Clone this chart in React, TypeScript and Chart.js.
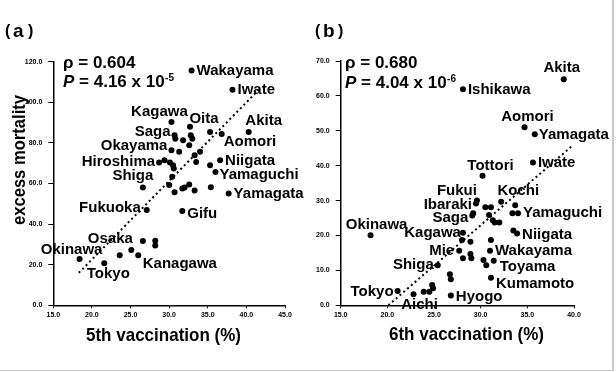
import React, { useEffect, useRef } from 'react';
import { Chart, registerables } from 'chart.js';

Chart.register(...registerables);

const FONT = '"Liberation Sans", Arial, Helvetica, sans-serif';

// ---------- Panel (a): 5th vaccination vs excess mortality ----------
const vacc5 = [32.9, 38.2, 30.3, 32.7, 35.3, 36.8, 40.3, 30.7, 30.8, 31.8, 32.8, 33.0, 32.6, 30.3, 31.3, 33.3, 34.0, 33.5, 36.6, 35.3, 36.0, 28.7, 29.4, 30.1, 30.5, 30.6, 30.4, 26.6, 30.0, 30.7, 31.7, 32.0, 32.6, 33.3, 35.4, 37.7, 31.7, 27.1, 26.6, 28.2, 28.2, 23.6, 25.1, 26.0, 21.6, 18.4];
const mort5 = [115.7, 106.2, 90.3, 87.9, 85.4, 84.4, 85.4, 83.8, 82.1, 81.3, 83.8, 82.1, 78.8, 76.4, 75.6, 73.9, 75.6, 70.6, 71.5, 69.0, 65.7, 70.3, 71.5, 70.3, 69.0, 67.4, 63.3, 58.0, 59.2, 55.7, 57.5, 58.0, 59.5, 56.6, 58.2, 55.1, 46.5, 46.9, 31.7, 31.8, 29.5, 24.7, 27.2, 24.7, 20.7, 22.8];
const names5 = ['Wakayama', 'Iwate', 'Kagawa', 'Oita', '', 'Aomori', 'Akita', 'Saga', '', '', '', '', '', 'Okayama', '', '', '', '', 'Niigata', '', 'Yamaguchi', 'Hiroshima', '', '', '', '', 'Shiga', '', '', '', '', '', '', '', '', 'Yamagata', 'Gifu', 'Fukuoka', 'Osaka', '', '', '', '', 'Kanagawa', 'Tokyo', 'Okinawa'];
const trendX5 = [18.3, 41.7];
const trendY5 = [16.0, 106.5];
const rho5 = '0.604';
const pMant5 = '4.16';
const pExp5 = '-5';

// ---------- Panel (b): 6th vaccination vs excess mortality ----------
const vacc6 = [38.9, 28.1, 34.7, 35.8, 35.6, 30.2, 29.6, 29.5, 30.5, 31.1, 32.2, 33.7, 33.4, 34.0, 29.2, 29.1, 30.9, 31.3, 31.5, 32.0, 33.5, 33.9, 18.2, 28.1, 28.0, 28.9, 31.1, 27.7, 28.9, 28.1, 29.0, 31.0, 30.3, 30.6, 31.4, 25.4, 26.7, 26.8, 31.1, 24.8, 24.9, 26.8, 21.1, 22.8, 23.9, 24.5];
const mort6 = [64.8, 61.9, 51.0, 49.0, 40.9, 37.1, 30.0, 29.2, 28.1, 28.1, 29.7, 28.7, 26.4, 26.4, 26.4, 25.7, 25.9, 24.4, 23.7, 23.7, 21.4, 20.6, 20.1, 20.8, 18.7, 18.2, 18.7, 15.6, 14.7, 13.5, 13.5, 15.6, 13.0, 11.5, 12.8, 11.5, 8.9, 7.5, 7.9, 5.8, 4.9, 2.8, 4.1, 3.2, 3.9, 3.9];
const names6 = ['Akita', 'Ishikawa', 'Aomori', 'Yamagata', 'Iwate', 'Tottori', 'Fukui', 'Ibaraki', '', '', 'Kochi', '', '', 'Yamaguchi', '', 'Saga', '', '', '', '', '', 'Niigata', 'Okinawa', 'Kagawa', '', '', '', 'Mie', '', '', '', 'Wakayama', '', '', 'Toyama', 'Shiga', '', '', 'Kumamoto', '', '', 'Hyogo', 'Tokyo', 'Aichi', '', ''];
const trendX6 = [20.1, 39.9];
const trendY6 = [0.0, 45.9];
const rho6 = '0.680';
const pMant6 = '4.04';
const pExp6 = '-6';

// label placement (text anchor relative to its point, in px)
type Place = [CanvasTextAlign, number, number];
const place5: Record<string, Place> = {
  Wakayama: ['left', 5, 0], Iwate: ['left', 5, 0], Kagawa: ['center', -12, -10], Oita: ['center', 14, -8],
  Aomori: ['left', 2, 8], Akita: ['center', 15, -11], Saga: ['right', -4, -3.5], Okayama: ['right', -4, -4],
  Niigata: ['left', 5, 1], Yamaguchi: ['left', 4, 3], Hiroshima: ['right', -4, -1], Shiga: ['right', -19, -1],
  Yamagata: ['left', 5, 0], Gifu: ['left', 5, 3], Fukuoka: ['right', -6, -2], Osaka: ['right', -10, -2.5],
  Kanagawa: ['left', 4.5, 8.5], Tokyo: ['center', 4, 11], Okinawa: ['center', -8, -9],
};
const place6: Record<string, Place> = {
  Akita: ['center', -2, -11], Ishikawa: ['left', 5, 1], Aomori: ['center', 3, -10], Yamagata: ['left', 4, 1],
  Iwate: ['left', 5, 0], Tottori: ['center', 8, -10], Fukui: ['right', 0, -10], Ibaraki: ['right', -4, 1],
  Kochi: ['center', 17, -11], Yamaguchi: ['left', 5, 0], Saga: ['right', -4, 2], Niigata: ['left', 5, 1],
  Okinawa: ['center', 6, -10.5], Kagawa: ['right', -2, 0], Mie: ['right', -5, 0], Wakayama: ['left', 5, 0],
  Shiga: ['right', -4, 0], Toyama: ['left', 6, 6], Kumamoto: ['left', 5, 6], Tokyo: ['right', -4, 1],
  Aichi: ['center', 6, 11], Hyogo: ['left', 5, 1],
};

interface Panel {
  xs: number[]; ys: number[]; names: string[]; place: Record<string, Place>;
  tx: number[]; ty: number[];
  xMin: number; xMax: number; xStep: number; yMin: number; yMax: number; yStep: number;
  padLeft: number; padRight: number; padTop: number; yAxisW: number; xAxisH: number;
  letter: string; letterX: number; rho: string; pMant: string; pExp: string; textX: number; pBase: number;
  xTitle: string; xTitleX: number; xTitleY: number; xTitleW: number;
  yTitle?: string;
}

function fitText(ctx: CanvasRenderingContext2D, text: string, x: number, y: number, w: number) {
  const m = ctx.measureText(text).width;
  ctx.save();
  ctx.translate(x, y);
  ctx.scale(w / m, 1);
  ctx.textAlign = 'center';
  ctx.fillText(text, 0, 0);
  ctx.restore();
}

function makeChart(canvas: HTMLCanvasElement, p: Panel) {
  const textPlugin = {
    id: 'texts',
    beforeDraw(chart: any) {
      if (!p.yTitle) return;
      const ctx: CanvasRenderingContext2D = chart.ctx;
      ctx.save();
      ctx.fillStyle = '#000';
      ctx.translate(20, 160);
      ctx.rotate(-Math.PI / 2);
      ctx.font = `bold 18px ${FONT}`;
      ctx.textBaseline = 'middle';
      fitText(ctx, p.yTitle, 0, 0, 130);
      ctx.restore();
    },
    afterDatasetsDraw(chart: any) {
      const ctx: CanvasRenderingContext2D = chart.ctx;
      ctx.save();
      ctx.fillStyle = '#000';
      // point labels
      const meta = chart.getDatasetMeta(0);
      ctx.font = `bold 15px ${FONT}`;
      ctx.textBaseline = 'middle';
      p.names.forEach((n, i) => {
        if (!n) return;
        const pl = p.place[n];
        const el = meta.data[i];
        ctx.textAlign = pl[0];
        ctx.fillText(n, el.x + pl[1], el.y + pl[2]);
      });
      // panel letter
      ctx.textBaseline = 'alphabetic';
      ctx.textAlign = 'left';
      ctx.font = `bold 16px ${FONT}`;
      ctx.fillText('(', p.letterX, 36);
      ctx.font = `bold 19px ${FONT}`;
      ctx.fillText(p.letter, p.letterX + 8, 37);
      ctx.font = `bold 16px ${FONT}`;
      ctx.fillText(')', p.letterX + 23, 36);
      // statistics
      ctx.font = `bold 17px ${FONT}`;
      ctx.fillText(`ρ = ${p.rho}`, p.textX, 68);
      ctx.font = `italic bold 17px ${FONT}`;
      ctx.fillText('P', p.textX, p.pBase);
      let w = ctx.measureText('P').width;
      ctx.font = `bold 17px ${FONT}`;
      const rest = ` = ${p.pMant} x 10`;
      ctx.fillText(rest, p.textX + w, p.pBase);
      w += ctx.measureText(rest).width;
      ctx.font = `bold 10px ${FONT}`;
      ctx.fillText(p.pExp, p.textX + w + 0.5, p.pBase - 6);
      // x axis title
      ctx.font = `bold 19px ${FONT}`;
      fitText(ctx, p.xTitle, p.xTitleX, p.xTitleY, p.xTitleW);
      ctx.restore();
    },
  };

  const tickFont = { size: 7, weight: 'bold' as const, family: FONT };
  return new Chart(canvas, {
    type: 'scatter',
    data: {
      datasets: [
        {
          type: 'scatter',
          data: p.xs.map((x, i) => ({ x, y: p.ys[i] })),
          pointRadius: 3,
          pointBackgroundColor: '#000',
          pointBorderWidth: 0,
          pointHoverRadius: 3,
        } as any,
        {
          type: 'line',
          data: p.tx.map((x, i) => ({ x, y: p.ty[i] })),
          borderColor: '#000',
          borderWidth: 2,
          borderDash: [2, 3],
          pointRadius: 0,
          fill: false,
          showLine: true,
        } as any,
      ],
    },
    options: {
      responsive: false,
      animation: false,
      devicePixelRatio: 1,
      events: [],
      layout: { padding: { left: p.padLeft, right: p.padRight, top: p.padTop, bottom: 0 } },
      plugins: { legend: { display: false }, tooltip: { enabled: false } },
      scales: {
        x: {
          type: 'linear', position: 'bottom', min: p.xMin, max: p.xMax,
          ticks: { stepSize: p.xStep, callback: (v: any) => Number(v).toFixed(1), font: tickFont, color: '#000', padding: 2.5, maxRotation: 0, autoSkip: false },
          grid: { drawOnChartArea: false, drawTicks: true, tickLength: 3, color: '#000', lineWidth: 1 },
          border: { display: true, color: '#000', width: 1.5 },
          afterFit: (s: any) => { s.height = p.xAxisH; },
        },
        y: {
          type: 'linear', position: 'left', min: p.yMin, max: p.yMax,
          ticks: { stepSize: p.yStep, callback: (v: any) => Number(v).toFixed(1), font: tickFont, color: '#000', padding: 6, autoSkip: false },
          grid: { drawOnChartArea: false, drawTicks: true, tickLength: 5, color: '#000', lineWidth: 1 },
          border: { display: true, color: '#000', width: 1.5 },
          afterFit: (s: any) => { s.width = p.yAxisW; },
        },
      },
    } as any,
    plugins: [textPlugin],
  });
}

const panelA: Panel = {
  xs: vacc5, ys: mort5, names: names5, place: place5, tx: trendX5, ty: trendY5,
  xMin: 15, xMax: 45, xStep: 5, yMin: 0, yMax: 120, yStep: 20,
  padLeft: 0, padRight: 331, padTop: 61.7, yAxisW: 53.3, xAxisH: 66.7,
  letter: 'a', letterX: 5, rho: rho5, pMant: pMant5, pExp: pExp5, textX: 63, pBase: 87,
  xTitle: '5th vaccination (%)', xTitleX: 163.5, xTitleY: 341, xTitleW: 155,
  yTitle: 'excess mortality',
};
const panelB: Panel = {
  xs: vacc6, ys: mort6, names: names6, place: place6, tx: trendX6, ty: trendY6,
  xMin: 15, xMax: 40, xStep: 5, yMin: 0, yMax: 70, yStep: 10,
  padLeft: 300, padRight: 42, padTop: 61, yAxisW: 40.7, xAxisH: 66.7,
  letter: 'b', letterX: 315, rho: rho6, pMant: pMant6, pExp: pExp6, textX: 345, pBase: 88,
  xTitle: '6th vaccination (%)', xTitleX: 466.5, xTitleY: 340, xTitleW: 155,
};

export default function App() {
  const refA = useRef<HTMLCanvasElement>(null);
  const refB = useRef<HTMLCanvasElement>(null);
  useEffect(() => {
    const a = makeChart(refA.current!, panelA);
    const b = makeChart(refB.current!, panelB);
    return () => { a.destroy(); b.destroy(); };
  }, []);
  const cs: React.CSSProperties = { position: 'absolute', left: 0, top: 0, width: 616, height: 372 };
  return (
    <div style={{ position: 'fixed', left: 0, top: 0, width: 616, height: 372, background: '#fff', overflow: 'hidden' }}>
      <div style={{ position: 'absolute', left: 0, top: 0, width: 612, height: 370, borderRight: '2px solid #c8c8c8', borderBottom: '1px solid #c8c8c8' }} />
      <canvas ref={refA} width={616} height={372} style={cs} />
      <canvas ref={refB} width={616} height={372} style={cs} />
    </div>
  );
}
